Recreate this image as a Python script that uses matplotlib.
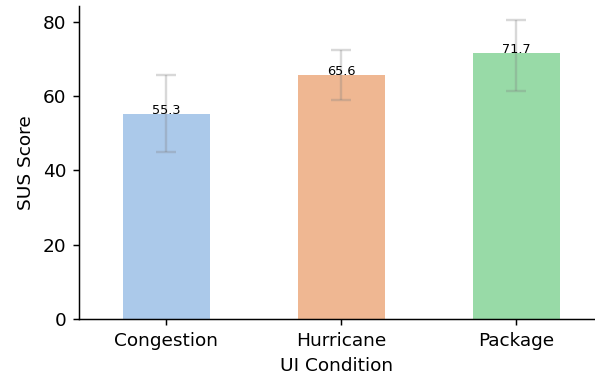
import matplotlib
matplotlib.use("Agg")
import matplotlib.pyplot as plt
import seaborn as sns

conditions = ["Congestion", "Hurricane", "Package"]
sus_mean = [55.3, 65.6, 71.7]
# confidence interval ends
ci_low = [45.0, 58.9, 61.4]
ci_high = [65.8, 72.4, 80.5]

colors = [sns.desaturate(c, 0.75) for c in sns.color_palette("pastel", 3)]

fig = plt.figure(figsize=(595 / 133, 379 / 133), dpi=133)
ax = fig.add_axes([79 / 595, 60 / 379, 1 - 79 / 595, 313 / 379])

x = range(len(conditions))
ax.bar(x, sus_mean, width=0.5, color=colors)
yerr = [[m - lo for m, lo in zip(sus_mean, ci_low)],
        [hi - m for m, hi in zip(sus_mean, ci_high)]]
ax.errorbar(x, sus_mean, yerr=yerr, fmt="none", ecolor="gray",
            alpha=0.3, capsize=5.5, elinewidth=1.3, capthick=1.3)

for xi, h in zip(x, sus_mean):
    ax.text(xi, h, f"{h:.1f}", ha="center", va="baseline", fontsize=7)

ax.set_xticks(list(x))
ax.set_xticklabels(conditions)
ax.set_xlim(-0.5, 2.45)
ax.set_ylim(0, 84.3)
ax.set_xlabel("UI Condition")
ax.set_ylabel("SUS Score")
ax.spines["top"].set_visible(False)
ax.spines["right"].set_visible(False)

fig.savefig("out.png", dpi=133)
